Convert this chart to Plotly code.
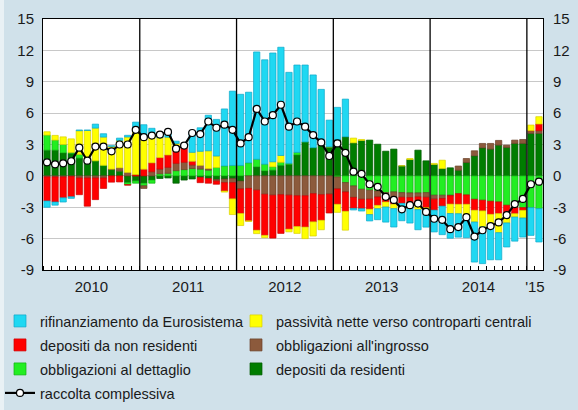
import plotly.graph_objects as go
import numpy as np

months = [f"{y}-{m:02d}" for y in range(2010, 2015) for m in range(1, 13)] + ["2015-01", "2015-02"]
year_labels = ["2010", "2011", "2012", "2013", "2014", "'15"]

depositi_residenti = [
    2.46, 2.46, 2.2, 2.14, 1.7, 1.44, 1.44, 0.96, 0.6, 0.45, -0.64, -0.48,
    -0.7, -0.4, -0.25, -0.2, -0.7, -0.4, -0.3, -0.15, -0.25, -0.35, -0.3, -0.25,
    -0.5, 0.0, 0.86, 0.48, 0.55, 1.0, 1.1, 2.0, 3.25, 2.7, 3.0, 2.78,
    3.48, 3.74, 3.16, 3.38, 3.42, 3.03, 2.36, 2.56, 0.96, 1.56, 2.46, 1.44,
    1.09, 0.7, 0.77, 0.54, 1.28, 1.92, 2.68, 2.56, 2.94, 2.72, 3.1, 3.1,
    4.06, 4.06]
obbligazioni_dettaglio = [
    1.44, 0.96, 0.8, 0.1, 0.35, 0.0, 0.0, 0.05, 0.0, 0.0, -0.2, -0.22,
    -0.25, -0.3, 0.2, 0.25, 0.5, 0.6, 0.7, 0.65, 0.55, 0.8, 0.95, 1.0,
    1.0, 1.25, 0.73, 0.64, 0.32, 0.3, 0.1, 0.25, 0.0, 0.0, 0.0, 0.0,
    -0.1, -0.64, -0.96, -1.28, -1.37, -1.44, -1.6, -1.53, -1.6, -1.63, -1.63, -1.6,
    -1.85, -1.85, -1.85, -1.7, -1.82, -2.24, -2.33, -2.43, -2.49, -2.81, -3.04, -3.04,
    -3.04, -3.13]
obbligazioni_ingrosso = [
    -0.1, -0.1, -0.1, -0.05, -0.2, -0.2, -0.2, -0.2, 0.05, 0.32, 0.32, 0.0,
    -0.25, 0.4, 0.45, 0.57, 0.7, 0.7, 0.35, 0.35, 0.15, -0.15, -0.35, -0.4,
    -0.75, -1.2, -1.37, -1.76, -1.85, -1.8, -1.85, -1.9, -1.9, -1.7, -1.8, -1.75,
    -1.15, -0.9, -1.1, -0.96, -0.86, -0.58, -0.42, -0.8, -0.45, -0.45, -0.38, -0.45,
    -0.38, -0.32, -0.05, 0.4, 0.38, 0.48, 0.42, 0.54, 0.45, 0.22, 0.32, 0.38,
    0.26, 0.26]
depositi_non_residenti = [
    -2.3, -2.4, -2.0, -1.95, -1.6, -2.7, -2.07, -1.0, -0.6, -0.58, -0.05, 0.13,
    0.64, 0.85, 1.1, 1.18, 1.6, 1.45, 0.35, -0.5, -0.45, -0.3, -0.8, -1.55,
    -2.35, -3.1, -3.83, -3.93, -4.1, -3.7, -3.25, -2.95, -3.0, -2.7, -2.45, -1.8,
    -1.47, -1.85, -1.05, -0.9, -0.96, -0.8, -0.48, -0.38, -0.58, -0.58, -0.8, -1.0,
    -1.05, -0.73, -0.8, -1.02, -0.9, -1.05, -1.02, -1.25, -1.12, -0.96, -0.58, -0.26,
    0.0, 0.64]
passivita_ccp = [
    0.32, 0.45, 0.73, 1.3, 2.27, 2.9, 3.13, 2.7, 2.17, 2.62, 3.4, 4.47,
    2.97, 2.8, 1.9, 1.7, 0.3, 0.05, 0.85, 1.35, 1.7, 1.1, -0.1, -1.5,
    -1.15, -0.05, -0.32, -0.22, 0.48, 0.65, -0.25, -0.65, -1.1, -1.35, -0.9, 0.0,
    -0.77, -1.8, 0.45, 0.1, -0.51, -0.32, -0.48, -0.42, 0.0, 0.1, -0.42, -0.19,
    0.1, 0.8, -0.9, -0.9, -1.21, -1.12, -1.53, -1.05, -1.82, -0.73, -0.32, -0.73,
    0.54, 0.7]
rifinanziamento = [
    -0.6, -0.3, -0.4, -0.15, 0.07, 0.05, 0.38, 0.32, 0.07, 0.22, 0.16, 0.54,
    1.28, 0.5, 0.5, 0.4, 0.22, 0.25, 2.0, 2.25, 3.4, 3.5, 5.45, 7.1,
    6.8, 6.75, 10.26, 9.98, 10.4, 10.35, 8.7, 8.35, 7.35, 6.95, 5.27, 2.55,
    3.07, 3.6, -0.15, -0.22, -0.61, -1.05, -1.44, -1.76, -1.66, -1.85, -1.92, -1.66,
    -2.08, -2.72, -2.36, -2.24, -1.98, -3.83, -3.51, -3.29, -2.59, -2.3, -2.3, -1.82,
    -2.65, -3.19]
raccolta_complessiva = [
    1.3, 1.1, 1.2, 1.4, 2.7, 1.45, 2.8, 2.8, 2.35, 3.0, 3.0, 4.4,
    3.7, 3.85, 3.95, 4.2, 2.6, 2.9, 4.1, 4.0, 5.2, 4.6, 4.9, 4.4,
    3.1, 3.7, 6.4, 5.2, 5.8, 6.8, 4.7, 5.2, 4.7, 3.9, 3.2, 1.9,
    3.1, 2.2, 0.4, 0.2, -0.8, -1.05, -2.0, -2.3, -3.2, -2.8, -2.65, -3.45,
    -4.1, -4.2, -5.1, -4.9, -3.95, -5.8, -5.2, -4.8, -4.45, -3.75, -2.7, -2.2,
    -0.8, -0.55]

y_ticks = [-9, -6, -3, 0, 3, 6, 9, 12, 15]

x = np.arange(len(months))
years = [m[:4] for m in months]
uniq_years = sorted(set(years))
year_centers = [float(np.mean([i for i, yv in enumerate(years) if yv == yy])) for yy in uniq_years]
year_starts = [min(i for i, yv in enumerate(years) if yv == yy) - 0.5 for yy in uniq_years[1:]]

FONT = "Liberation Sans, Arial, Helvetica, sans-serif"
TXT = "#1a1a1a"
W, H = 578, 410
ML, MR, MT, MB = 43, 35, 19, 140

# legend slots: (left px, top px)
COL = [0, 236]
ROW = [305, 329, 353, 377]

# (name, values, fill, edge, legend id, col, row)
series = [
    ("depositi da residenti", depositi_residenti, "#007d00", "#005a00", "legend6", 1, 2),
    ("obbligazioni al dettaglio", obbligazioni_dettaglio, "#22ee22", "#10b010", "legend5", 0, 2),
    ("obbligazioni all'ingrosso", obbligazioni_ingrosso, "#8c5a3c", "#6a4028", "legend4", 1, 1),
    ("depositi da non residenti", depositi_non_residenti, "#ff0000", "#cc0000", "legend3", 0, 1),
    ("passività nette verso controparti centrali", passivita_ccp, "#ffff00", "#d8d000", "legend2", 1, 0),
    ("rifinanziamento da Eurosistema", rifinanziamento, "#1fd8f2", "#10a8c8", "legend", 0, 0),
]

def slot_legend(col, row):
    return dict(
        orientation="h", xref="container", yref="container",
        x=COL[col] / W, xanchor="left", y=1 - ROW[row] / H, yanchor="top",
        font=dict(size=14.5, family=FONT, color=TXT),
        bgcolor="rgba(0,0,0,0)", itemclick=False, itemdoubleclick=False,
    )

fig = go.Figure()
legends = {}
for name, vals, col, lcol, lg, c, r in series:
    fig.add_trace(go.Bar(
        x=x, y=vals, name=name, legend=lg,
        marker=dict(color=col, line=dict(color=lcol, width=0.7)),
    ))
    legends[lg] = slot_legend(c, r)

fig.add_trace(go.Scatter(
    x=x, y=raccolta_complessiva, name="raccolta complessiva", legend="legend7",
    mode="lines+markers",
    line=dict(color="black", width=2.2),
    marker=dict(symbol="circle", size=7, color="white", line=dict(color="black", width=1.2)),
))
legends["legend7"] = slot_legend(0, 3)

# invisible trace for right-hand axis labels
fig.add_trace(go.Scatter(x=[x[0]], y=[0], yaxis="y2", mode="markers",
                         marker=dict(opacity=0), showlegend=False, hoverinfo="skip"))

for xs in year_starts:
    fig.add_shape(type="line", xref="x", yref="y domain", x0=xs, x1=xs, y0=0, y1=1,
                  line=dict(color="black", width=1.3), layer="above")

# light strip at the left edge of the picture
pw, ph = W - ML - MR, H - MT - MB
fig.add_shape(type="rect", xref="paper", yref="paper",
              x0=-ML / pw, x1=(4 - ML) / pw, y0=-MB / ph, y1=1 + MT / ph,
              fillcolor="#e9f1f5", line=dict(width=0), layer="below")

fig.update_layout(
    width=W, height=H,
    margin=dict(l=ML, r=MR, t=MT, b=MB, autoexpand=False),
    paper_bgcolor="#d0e1ea",
    plot_bgcolor="white",
    barmode="relative",
    bargap=0.22,
    font=dict(family=FONT, color=TXT, size=15),
    showlegend=True,
    xaxis=dict(
        range=[-0.5, len(months) - 0.5], automargin=False,
        tickmode="array", tickvals=year_centers, ticktext=year_labels,
        ticks="", showgrid=False, zeroline=False,
        showline=True, linecolor="black", linewidth=1, mirror=True,
        tickfont=dict(size=15), ticklabelstandoff=3,
        minor=dict(tickmode="linear", tick0=0.5, dtick=1, ticks="inside",
                   ticklen=4, tickcolor="black", tickwidth=1, showgrid=False),
    ),
    yaxis=dict(
        range=[y_ticks[0], y_ticks[-1]], tickmode="array", tickvals=y_ticks,
        ticktext=[str(v) for v in y_ticks], automargin=False,
        showgrid=True, gridcolor="#c8c8c8", gridwidth=1, zeroline=False,
        showline=True, linecolor="black", linewidth=1, mirror=True,
        ticks="", tickfont=dict(size=15), ticklabelstandoff=5,
    ),
    yaxis2=dict(
        range=[y_ticks[0], y_ticks[-1]], tickmode="array", tickvals=y_ticks,
        ticktext=[str(v) for v in y_ticks], automargin=False,
        overlaying="y", side="right", showgrid=False, zeroline=False,
        ticks="", tickfont=dict(size=15), ticklabelstandoff=9,
    ),
)
fig.update_layout(**legends)

fig.write_html("out.html",
               config={"displayModeBar": False},
               post_script="document.body.style.margin='0';document.body.style.background='#d0e1ea';")
